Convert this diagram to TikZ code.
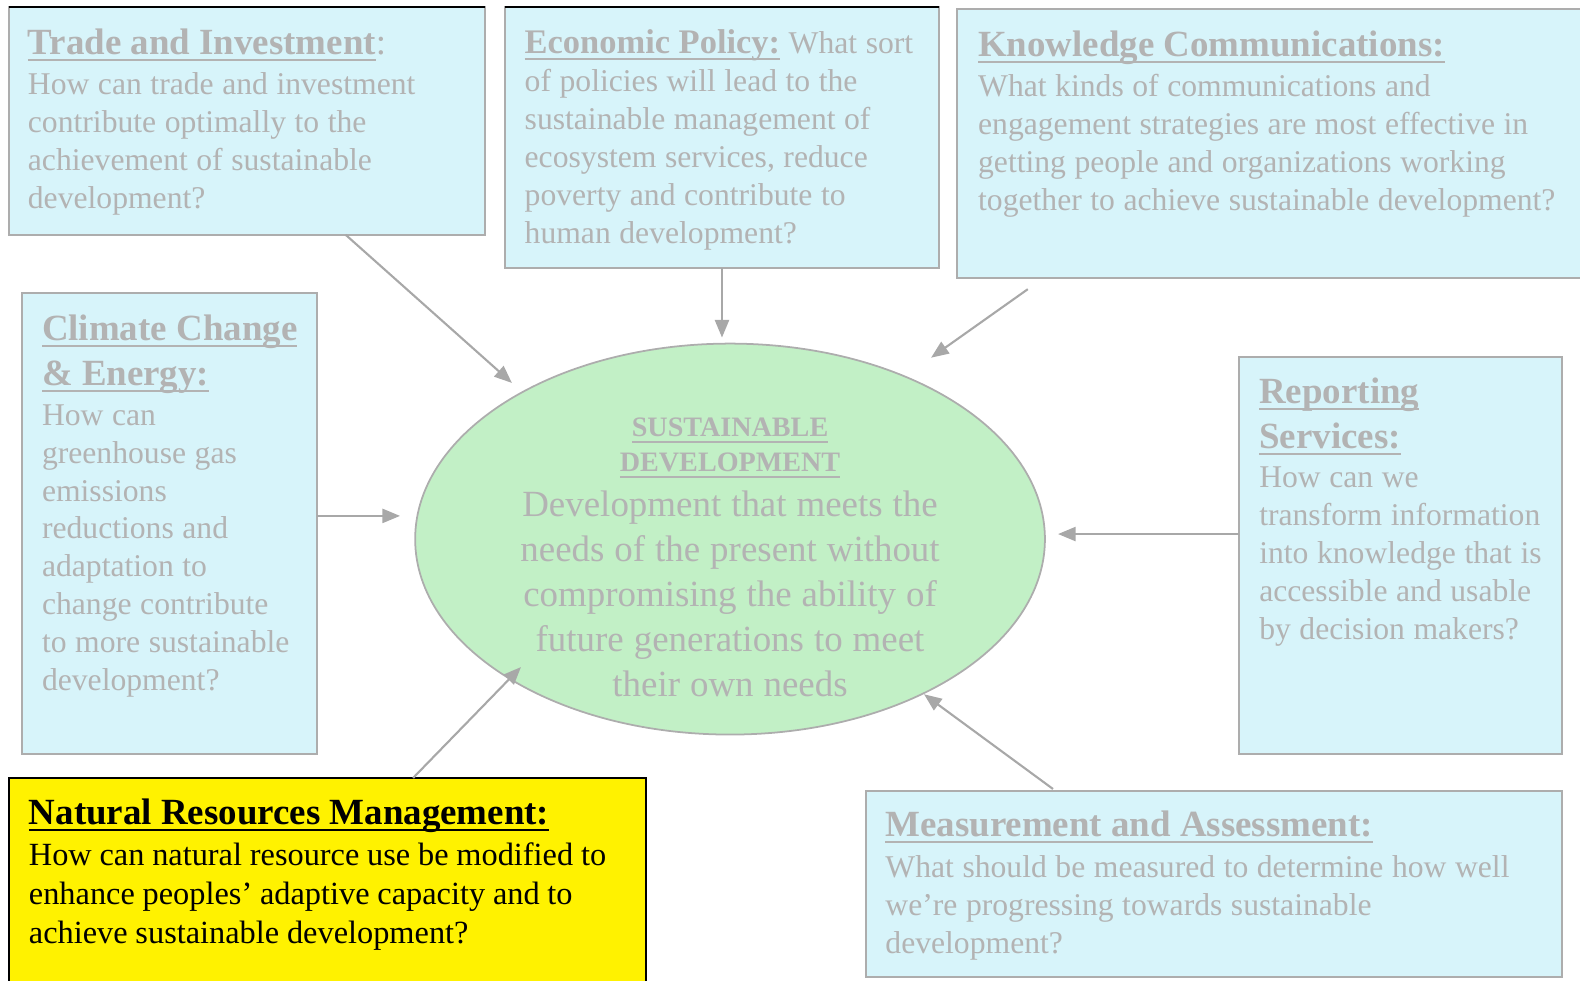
\documentclass[tikz,border=0pt]{standalone}
\usepackage{fontspec}
\setmainfont{Liberation Serif}
\usetikzlibrary{arrows.meta,shapes.geometric}

\definecolor{boxcyan}{HTML}{D7F4FA}
\definecolor{inkgray}{HTML}{B3B3B3}
\definecolor{edgegray}{HTML}{ADADAD}
\definecolor{linkgray}{HTML}{A8A8A8}
\definecolor{sdgreen}{HTML}{C2F0C6}
\newcommand{\pxu}{0.010077cm}
\newcommand{\hdrfont}{\fontsize{10.5pt}{12.8pt}\selectfont\bfseries\spaceskip=0.25em\relax}
\newcommand{\bdyfont}{\fontsize{9pt}{10.8pt}\selectfont\spaceskip=0.27em\relax}
% souligné à profondeur fixe
\newcommand{\hul}[1]{\leavevmode\setbox0\hbox{#1}\rlap{\vrule height -1.3pt depth 1.9pt width \wd0}\box0}

\begin{document}
\begin{tikzpicture}[x=\pxu,y=-\pxu,
    qbox/.style={draw=edgegray, line width=0.6pt, fill=boxcyan, anchor=north west, inner sep=0pt, outer sep=0pt},
    sz/.style 2 args={minimum width=#1*\pxu, minimum height=#2*\pxu},
    qtext/.style={anchor=north west, inner sep=0pt, text=inkgray, align=left},
    link/.style={draw=linkgray, line width=0.6pt, -{Triangle[length=5pt,width=4pt]}}]
    \useasboundingbox (0,0) rectangle (1568,973.5);

    % Les cadres
    \node[qbox, sz={472}{226}] (trade) at (9,7) {};
    \node[qbox, sz={431}{259}] (econ) at (501,7) {};
    \node[qbox, sz={640}{267}] (know) at (950,9) {};
    \node[qbox, sz={293}{457}] (clim) at (22,291) {};
    \node[qbox, sz={320}{394}] (rep) at (1230,354) {};
    \node[qbox, sz={691}{185}] (meas) at (859,785) {};
    \node[qbox, draw=black, fill=yellow, sz={632}{220}] (nrm) at (9,772) {};
    \node[ellipse, draw=edgegray, line width=0.5pt, fill=sdgreen, sz={625}{388}] (sd) at (724.5,535) {};

    \draw[line width=0.6pt] (trade.north west) -- (trade.north east);
    \draw[line width=0.6pt] (econ.north west) -- (econ.north east);

    % Les textes
    \node[qtext, text width=4.5cm] (tradeTxt) at (27,27.8) {{\hdrfont\hul{Trade and Investment}{\mdseries:}\par}\vspace{0.5pt}\bdyfont
        How can trade and investment\\contribute optimally to the\\achievement of sustainable\\development?\par};
    \node[qtext, text width=4.2cm] (econTxt) at (520,28.4) {\bdyfont{\fontsize{9.8pt}{10.8pt}\selectfont\bfseries\hul{Economic Policy:}} What sort\\of policies will lead to the\\sustainable management of\\ecosystem services, reduce\\poverty and contribute to\\human development?\par};
    \node[qtext, text width=6.2cm] (knowTxt) at (970,29.8) {{\hdrfont\hul{Knowledge Communications:}\par}\vspace{0.5pt}\bdyfont
        What kinds of communications and\\engagement strategies are most effective in\\getting people and organizations working\\together to achieve sustainable development?\par};
    \node[qtext, text width=2.8cm] (climTxt) at (41,311.6) {{\hdrfont\hul{Climate Change}\\\hul{\& Energy:}\par}\vspace{0.5pt}\bdyfont
        How can\\greenhouse gas\\emissions\\reductions and\\adaptation to\\change contribute\\to more sustainable\\development?\par};
    \node[qtext, text width=3.0cm] (repTxt) at (1249,374) {{\hdrfont\hul{Reporting}\\\hul{Services:}\par}\vspace{0.5pt}\bdyfont
        How can we\\transform information\\into knowledge that is\\accessible and usable\\by decision makers?\par};
    \node[qtext, text width=6.6cm] (measTxt) at (878,804) {{\hdrfont\hul{Measurement and Assessment:}\par}\vspace{0.8pt}\bdyfont
        What should be measured to determine how well\\we’re progressing towards sustainable\\development?\par};
    \node[qtext, text=black, text width=6.3cm] (nrmTxt) at (28,792) {{\hdrfont\hul{Natural Resources Management:}\par}\vspace{0.6pt}\fontsize{9.2pt}{11.1pt}\selectfont\spaceskip=0.24em\relax
        How can natural resource use be modified to\\enhance peoples’ adaptive capacity and to\\achieve sustainable development?\par};
    \node[qtext, anchor=north, align=center, text width=5cm] (sdTxt) at (724.5,414) {{\fontsize{8pt}{9.9pt}\selectfont\bfseries\spaceskip=0.25em\relax\hul{SUSTAINABLE}\\\hul{DEVELOPMENT}\par}\fontsize{10.5pt}{12.8pt}\selectfont\spaceskip=0.27em\relax
        Development that meets the\\needs of the present without\\compromising the ability of\\future generations to meet\\their own needs\par};

    % Les flèches
    \coordinate (tradeTip) at (508,380);
    \coordinate (econTip) at (716.5,335);
    \coordinate (knowTip) at (924,355);
    \coordinate (climTip) at (397,512);
    \coordinate (repTip) at (1050,530);
    \coordinate (nrmTip) at (517,662);
    \coordinate (measTip) at (917,689);

    \draw[link] ([shift={(98,0)}]trade.south) -- (tradeTip);
    \draw[link] (econ.south) -- (econTip);
    \draw[link] ([shift={(-250,11)}]know.south) -- (knowTip);
    \draw[link] ([shift={(0,-7.5)}]clim.east) -- (climTip);
    \draw[link] ([shift={(0,-21)}]rep.west) -- (repTip);
    \draw[link] ([shift={(85,0)}]nrm.north) -- (nrmTip);
    \draw[link] ([shift={(-159.5,-2)}]meas.north) -- (measTip);
\end{tikzpicture}
\end{document}
